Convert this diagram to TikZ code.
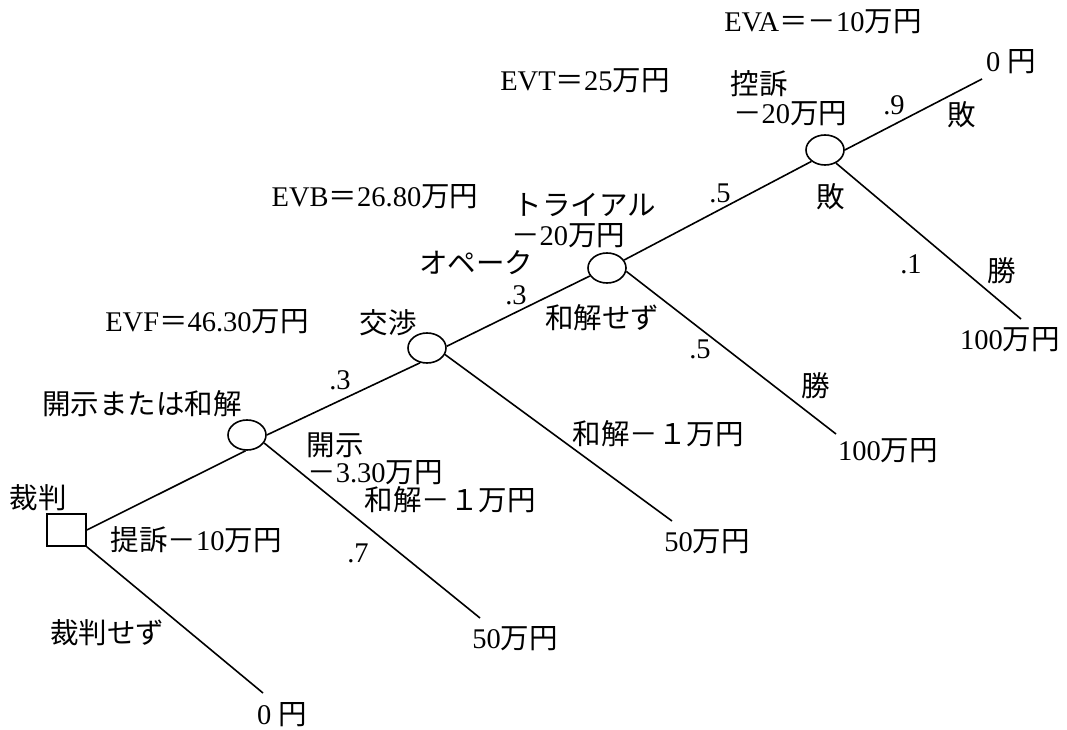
\documentclass[tikz,border=0pt]{standalone}
\usepackage{fontspec}
\setmainfont{Liberation Serif}
\newfontfamily\jpfont{Noto Sans CJK JP}
\newcommand{\jp}[1]{{\jpfont #1}}
\usetikzlibrary{shapes.geometric, positioning}
\tikzset{
x=1pt, y=1pt, % one unit is one pixel of the scan
on grid, % relative placement goes centre to centre
every node/.style={inner sep=0pt, font=\fontsize{28.5}{30}\selectfont},
chance/.style={ellipse, draw, line width=1.6pt, minimum width=38pt, minimum height=30pt}, % chance node
choice/.style={rectangle, draw, line width=1.6pt, minimum width=39pt, minimum height=32pt}, % decision node
branch/.style={line width=1.6pt},
}

\begin{document}
\begin{tikzpicture}
  \useasboundingbox (0,0) rectangle (1067,729);

  \node[choice] (sq) at (66.5,199) {};
  \node[chance, above right=95pt and 180.5pt of sq] (n1) {};
  \node[chance, above right=87pt and 180pt of n1] (n2) {};
  \node[chance, above right=80pt and 180pt of n2] (n3) {};
  \node[chance, above right=118pt and 218pt of n3] (n4) {};

  \coordinate[below right=163pt and 196.5pt of sq] (e0);
  \coordinate[below right=183pt and 233pt of n1] (e1);
  \coordinate[below right=173pt and 245pt of n2] (e2);
  \coordinate[below right=166pt and 229pt of n3] (e3);
  \coordinate[below right=169pt and 196pt of n4] (e4);
  \coordinate[above right=71pt and 157pt of n4] (e5);

  \draw[branch] (sq.east) -- (n1.-95);
  \draw[branch] (sq.south east) -- (e0);
  \draw[branch] (n1.0) -- (n2.-115);
  \draw[branch] (n1.-25) -- (e1);
  \draw[branch] (n2.5) -- (n3.205);
  \draw[branch] (n2.-20) -- (e2);
  \draw[branch] (n3.25) -- (n4.220);
  \draw[branch] (n3.-10) -- (e3);
  \draw[branch] (n4.0) -- (e5);
  \draw[branch] (n4.-50) -- (e4);

  % trial
  \node (trial) at (38,231) {\jp{裁判}};
  \node (sue) at (196,189) {\jp{提訴－}10\jp{万円}};
  \node (nosue) at (107,96) {\jp{裁判せず}};
  \node (pay0) at (282,14) {0~\jp{円}};
  % discovery
  \node (disc) at (142,325) {\jp{開示または和解}};
  \node (evf) at (207,407) {EVF\jp{＝}46.30\jp{万円}};
  \node (p1) at (340,349) {.3};
  \node (disccost) at (335,284) {\jp{開示}};
  \node (disccost2) at (375,256) {\jp{－}3.30\jp{万円}};
  \node (settle1) at (450,229) {\jp{和解－１万円}};
  \node (p2) at (358,176) {.7};
  \node (pay50a) at (515,90) {50\jp{万円}};
  % negotiation
  \node (nego) at (388,406) {\jp{交渉}};
  \node (evb) at (375,532) {EVB\jp{＝}26.80\jp{万円}};
  \node (opaque) at (476,466) {\jp{オペーク}};
  \node (p3) at (516,434) {.3};
  \node (settle2) at (658,295) {\jp{和解－１万円}};
  \node (pay50b) at (707,187) {50\jp{万円}};
  % trial
  \node (tri) at (585,524) {\jp{トライアル}};
  \node (tricost) at (568,493) {\jp{－}20\jp{万円}};
  \node (nosettle) at (602,411) {\jp{和解せず}};
  \node (evt) at (585,648) {EVT\jp{＝}25\jp{万円}};
  \node (p4) at (720,536) {.5};
  \node (lose1) at (831,532) {\jp{敗}};
  \node (p5) at (700,380) {.5};
  \node (win1) at (816,343) {\jp{勝}};
  \node (pay100a) at (888,278) {100\jp{万円}};
  % appeal
  \node (appeal) at (759,645) {\jp{控訴}};
  \node (appcost) at (790,615) {\jp{－}20\jp{万円}};
  \node (eva) at (823,707) {EVA\jp{＝－}10\jp{万円}};
  \node (p6) at (894,624) {.9};
  \node (lose2) at (962,614) {\jp{敗}};
  \node (pay0b) at (1011,667) {0~\jp{円}};
  \node (p7) at (911,465) {.1};
  \node (win2) at (1002,458) {\jp{勝}};
  \node (pay100b) at (1010,389) {100\jp{万円}};
\end{tikzpicture}
\end{document}
